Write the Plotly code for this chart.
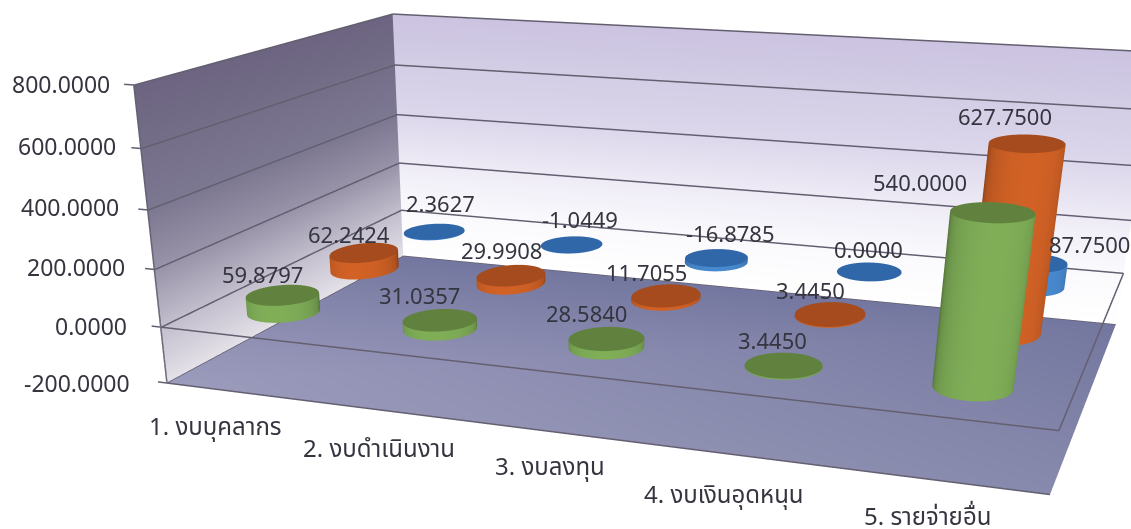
import numpy as np
import plotly.graph_objects as go

categories = ["1. งบบุคลากร", "2. งบดำเนินงาน", "3. งบลงทุน", "4. งบเงินอุดหนุน", "5. รายจ่ายอื่น"]
green_values = [59.8797, 31.0357, 28.5840, 3.4450, 540.0]
orange_values = [62.2424, 29.9908, 11.7055, 3.4450, 627.75]
blue_values = [2.3627, -1.0449, -16.8785, 0.0, 87.75]
z_ticks = [-200, 0, 200, 400, 600, 800]

W, H = 1131, 1476
x0, x1, y0, y1 = -0.5, 4.5, -0.5, 2.5
a, b = 3.059, 1.946
ex, ey, ez = 1.953, -6.193, 1.442
cx, cy, cz = 0.17, -1.486, -1.335
FLAT = dict(ambient=1, diffuse=0, specular=0, fresnel=0, roughness=1)

def cyl(i, s, val, color, top, r, squash):
    n = 48
    t = np.linspace(0, 2*np.pi, n, endpoint=False)
    rx = r/(a/5); ry = squash*r/(b/3)
    xs = i + rx*np.cos(t); ys = s + ry*np.sin(t)
    hi = max(val, 0); lo = min(val, 0)
    X = list(xs)*3 + [i]; Y = list(ys)*3 + [s]
    Z = [lo]*n + [hi]*n + [hi]*n + [hi]
    view = np.arctan2(ey-cy, ex-cx)
    shade = 0.66 + 0.34*np.clip(np.cos(t-view), 0, 1)**0.45
    side = [f"rgb({int(color[0]*q)},{int(color[1]*q)},{int(color[2]*q)})" for q in shade]
    tc = f"rgb({top[0]},{top[1]},{top[2]})"
    vc = side + side + [tc]*(n+1)
    I = []; J = []; K = []
    for k in range(n):
        m = (k+1) % n
        I += [k, m]; J += [m, m+n]; K += [k+n, k+n]
        I.append(3*n); J.append(2*n+k); K.append(2*n+m)
    return go.Mesh3d(x=X, y=Y, z=Z, i=I, j=J, k=K, vertexcolor=vc, flatshading=False,
                     lighting=FLAT, hoverinfo="skip", showscale=False)

def wall(px, py, zs, cols):
    X = []; Y = []; Z = []; C = []; I = []; J = []; K = []
    for n, (z, c) in enumerate(zip(zs, cols)):
        X += [px[0], px[1]]; Y += [py[0], py[1]]; Z += [z, z]; C += [f"rgb{c}"]*2
        if n:
            q = 2*n
            I += [q-2, q-1]; J += [q-1, q+1]; K += [q, q]
    return go.Mesh3d(x=X, y=Y, z=Z, i=I, j=J, k=K, vertexcolor=C, lighting=FLAT,
                     hoverinfo="skip", showscale=False)

zs = [-200, 0, 200, 400, 800]
traces = [
    wall((x0, x0), (y0, y1), zs, [(228,225,232), (195,190,205), (152,147,168), (125,120,145), (108,100,128)]),
    wall((x0, x1), (y1, y1), zs, [(255,255,255), (250,250,253), (238,235,246), (220,215,235), (203,195,224)]),
    go.Mesh3d(x=[x0, x1, x1, x0], y=[y0, y0, y1, y1], z=[-200]*4, i=[0, 0], j=[1, 2], k=[2, 3],
              vertexcolor=["rgb(155,155,188)", "rgb(135,138,172)", "rgb(115,118,158)", "rgb(115,118,158)"],
              lighting=FLAT, hoverinfo="skip", showscale=False),
]

def seg(*pts):
    traces.append(go.Scatter3d(x=[q[0] for q in pts], y=[q[1] for q in pts], z=[q[2] for q in pts], mode="lines",
                               line=dict(color="rgb(100,95,112)", width=3), hoverinfo="skip", showlegend=False))

e = 0.004
for z in z_ticks:
    seg((x0-0.06, y0, z), (x0+e, y0, z), (x0+e, y1-e, z), (x1, y1-e, z))
seg((x0, y0, 0), (x1, y0, 0), (x1, y1, 0))
seg((x0, y0, -200), (x1, y0, -200))
seg((x0, y0, -200), (x0, y0, 800))

GREEN = (128,175,88); ORANGE = (210,98,38); BLUE = (72,138,208)
rows = [(green_values, 0, GREEN, (97,130,62), 0.125, 1.15),
        (orange_values, 1, ORANGE, (165,75,30), 0.122, 1.35),
        (blue_values, 2, BLUE, (48,103,168), 0.122, 1.2)]
fontf = "Noto Sans, Noto Sans Thai, Loma, Tahoma, sans-serif"
TXT = "#353540"
ann = []
label_shift = {0: [(-20,-21), (-20,-25), (-20,-26), (-11,-25), (-73,-30)],
               1: [(-15,-19), (-10,-25), (-20,-24), (-20,-24), (-22,-28)],
               2: [(6,-29), (8,-26), (14,-25), (-1,-23), (56,-19)]}
for vals, s, col, top, r, squash in rows:
    for i, v in enumerate(vals):
        traces.append(cyl(i, s, v, col, top, r, squash))
        dx, dy = label_shift[s][i]
        ann.append(dict(x=i, y=s, z=max(v, 0), text=f"{v:.4f}", showarrow=False, xshift=dx, yshift=-dy,
                        font=dict(size=22, color=TXT, family=fontf)))
tick_shift = {-200: (-35, 0), 0: (-32, 1), 200: (-27, 2), 400: (-27, 3), 600: (-23, 2), 800: (-22, 1)}
for z in z_ticks:
    ann.append(dict(x=x0, y=y0, z=z, text=f"{z:.4f}", showarrow=False, xanchor="right",
                    xshift=tick_shift[z][0], yshift=tick_shift[z][1], font=dict(size=23, color=TXT, family=fontf)))
cat_shift = [(-12,4), (-7,2), (-5,5), (-11,0), (0,2)]
for i, c in enumerate(categories):
    ann.append(dict(x=i-0.1, y=y0, z=-200, text=c, showarrow=False, yanchor="top", xshift=cat_shift[i][0],
                    yshift=-20+cat_shift[i][1], font=dict(size=24, color=TXT, family=fontf)))

axis = dict(visible=True, showticklabels=False, showgrid=False, zeroline=False, showline=False,
            showbackground=False, showspikes=False, ticks="", title="")
fig = go.Figure(traces)
fig.update_layout(width=W, height=H, margin=dict(l=0, r=0, t=0, b=0), paper_bgcolor="white", showlegend=False,
    scene=dict(domain=dict(x=[0, 1], y=[0, 1]),
        xaxis=dict(range=[-1, 5], **axis), yaxis=dict(range=[-1, 3], **axis), zaxis=dict(range=[-300, 900], **axis),
        aspectmode="manual", aspectratio=dict(x=a*6/5, y=b*4/3, z=1.2),
        camera=dict(eye=dict(x=ex, y=ey, z=ez), center=dict(x=cx, y=cy, z=cz), up=dict(x=0, y=0, z=1)),
        annotations=ann))
fig.write_html("out.html", config=dict(displayModeBar=False),
               post_script="document.documentElement.style.overflow='hidden';document.body.style.overflow='hidden';document.body.style.margin='0';")
